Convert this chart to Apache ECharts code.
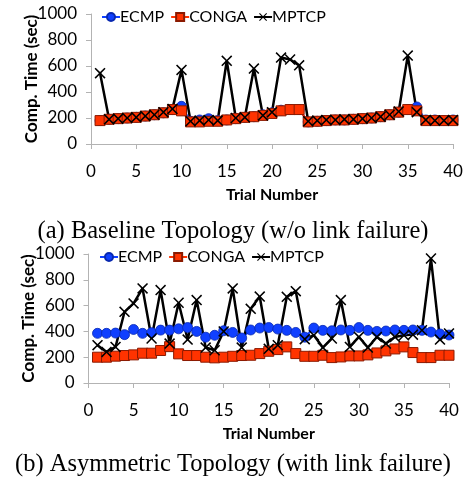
<!DOCTYPE html>
<html lang="en">

<head>
    <meta charset="UTF-8">
    <title>Comp-Time</title>
    <script src="https://cdnjs.cloudflare.com/ajax/libs/echarts/6.0.0/echarts.min.js"></script>
    <style>
        body { margin: 0; background: #fff; }
    </style>
</head>

<body>
    <div id="main" style="width: 466px;height:483px;"></div>

    <script>
        // trial numbers (x)
        const trials = [1, 2, 3, 4, 5, 6, 7, 8, 9, 10, 11, 12, 13, 14, 15, 16, 17, 18, 19, 20,
            21, 22, 23, 24, 25, 26, 27, 28, 29, 30, 31, 32, 33, 34, 35, 36, 37, 38, 39, 40];

        // (a) baseline topology
        const ecmpA = [180, 190, 195, 200, 205, 215, 225, 240, 265, 290, 175, 185, 195, 180, 185, 195, 205, 210, 225, 240,
            260, 265, 265, 170, 175, 180, 185, 185, 190, 195, 200, 210, 225, 245, 265, 285, 185, 185, 180, 185];
        const congaA = [180, 190, 195, 200, 205, 215, 225, 240, 265, 255, 170, 170, 175, 175, 185, 195, 205, 210, 220, 235,
            255, 265, 265, 170, 175, 180, 185, 185, 190, 195, 200, 210, 225, 245, 265, 255, 180, 180, 180, 180];
        const mptcpA = [545, 190, 195, 200, 205, 215, 225, 245, 270, 570, 175, 180, 185, 180, 640, 200, 205, 580, 220, 245,
            665, 650, 605, 175, 180, 185, 185, 190, 190, 195, 200, 210, 225, 250, 680, 245, 185, 180, 180, 185];

        // (b) asymmetric topology
        const ecmpB = [385, 385, 387, 375, 415, 385, 390, 410, 410, 420, 430, 400, 355, 370, 405, 392, 349, 411, 426, 430,
            418, 408, 392, 355, 426, 408, 405, 411, 408, 430, 408, 400, 403, 411, 408, 411, 408, 395, 380, 372];
        const congaB = [200, 200, 208, 213, 218, 231, 231, 252, 282, 226, 213, 213, 200, 195, 200, 207, 213, 215, 228, 246,
            259, 280, 228, 207, 207, 215, 197, 202, 210, 210, 218, 233, 249, 264, 280, 236, 197, 197, 215, 215];
        const mptcpB = [293, 241, 280, 552, 617, 733, 345, 720, 306, 622, 337, 643, 275, 254, 400, 733, 275, 575, 670, 265,
            293, 668, 712, 340, 370, 275, 345, 643, 280, 357, 275, 357, 306, 357, 370, 375, 409, 965, 337, 384];

        const yTicks = [0, 200, 400, 600, 800, 1000];
        const xTicks = [0, 5, 10, 15, 20, 25, 30, 35, 40];

        const chart = echarts.init(document.getElementById('main'));
        window.addEventListener("resize", () => chart.resize());

        const FONT = 'Lato';
        const crossIcon = 'path://M0,1L1,0L5,4L9,0L10,1L6,5L10,9L9,10L5,6L1,10L0,9L4,5Z';

        function pairs(vals) {
            return trials.map((t, i) => [t, vals[i]]);
        }

        function xAxis(idx) {
            return {
                type: 'value', gridIndex: idx, min: xTicks[0], max: xTicks[xTicks.length - 1], interval: 5,
                name: 'Trial Number', nameLocation: 'middle', nameGap: 43, nameMoveOverlap: false,
                nameTextStyle: { fontFamily: FONT, fontWeight: 'bold', fontSize: 16, color: '#000' },
                axisLine: { lineStyle: { color: '#b3b3b3', width: 1 } },
                axisTick: { show: true, length: 5, lineStyle: { color: '#b3b3b3' } },
                axisLabel: { fontFamily: FONT, fontSize: 17, color: '#000', margin: 19 },
                splitLine: { show: false }
            };
        }

        function yAxis(idx) {
            return {
                type: 'value', gridIndex: idx, min: yTicks[0], max: yTicks[yTicks.length - 1], interval: 200,
                name: 'Comp. Time (sec)', nameLocation: 'middle', nameGap: 51, nameMoveOverlap: false,
                nameTextStyle: { fontFamily: FONT, fontWeight: 'bold', fontSize: 17, color: '#000' },
                axisLine: { show: true, lineStyle: { color: '#b3b3b3', width: 1 } },
                axisTick: { show: true, length: 5, lineStyle: { color: '#b3b3b3' } },
                axisLabel: { fontFamily: FONT, fontSize: 17, color: '#000', margin: 14, formatter: v => String(v) },
                splitLine: { show: false }
            };
        }

        function series(idx, e, c, m) {
            return [
                {
                    name: 'ECMP', type: 'line', xAxisIndex: idx, yAxisIndex: idx, data: pairs(e),
                    symbol: 'circle', symbolSize: 10,
                    lineStyle: { color: '#1040ff', width: 2 },
                    itemStyle: { color: '#1040ff', borderColor: '#0828b0', borderWidth: 0.8 }
                },
                {
                    name: 'CONGA', type: 'line', xAxisIndex: idx, yAxisIndex: idx, data: pairs(c),
                    symbol: 'rect', symbolSize: 10,
                    lineStyle: { color: '#ff3300', width: 2 },
                    itemStyle: { color: '#ff3300', borderColor: '#8b1a00', borderWidth: 1 }
                },
                {
                    name: 'MPTCP', type: 'line', xAxisIndex: idx, yAxisIndex: idx, data: pairs(m),
                    symbol: crossIcon, symbolSize: 11,
                    lineStyle: { color: '#000', width: 2.5 },
                    itemStyle: { color: '#000' }
                }
            ];
        }

        function legend(top, left) {
            return {
                top: top, left: left, itemWidth: 18, itemHeight: 10, itemGap: 6,
                textStyle: { fontFamily: FONT, fontSize: 16, color: '#000', padding: [0, 0, 0, -5] },
                data: ['ECMP', 'CONGA', 'MPTCP']
            };
        }

        const capStyle = { fontFamily: 'Liberation Serif', fontSize: 24.5, fontWeight: 'normal', color: '#000' };

        chart.setOption({
            animation: false,
            title: [
                { text: '(a) Baseline Topology (w/o link failure)', left: 'center', top: 219, padding: 0, textStyle: capStyle },
                { text: '(b) Asymmetric Topology (with link failure)', left: 'center', top: 452, padding: 0, textStyle: capStyle }
            ],
            legend: [legend(4, 96), legend(244, 94)],
            grid: [
                { left: 91, right: 13, top: 14, height: 130 },
                { left: 88.5, right: 17, top: 254, height: 129 }
            ],
            xAxis: [xAxis(0), xAxis(1)],
            yAxis: [yAxis(0), yAxis(1)],
            series: series(0, ecmpA, congaA, mptcpA).concat(series(1, ecmpB, congaB, mptcpB))
        });
    </script>
</body>

</html>
